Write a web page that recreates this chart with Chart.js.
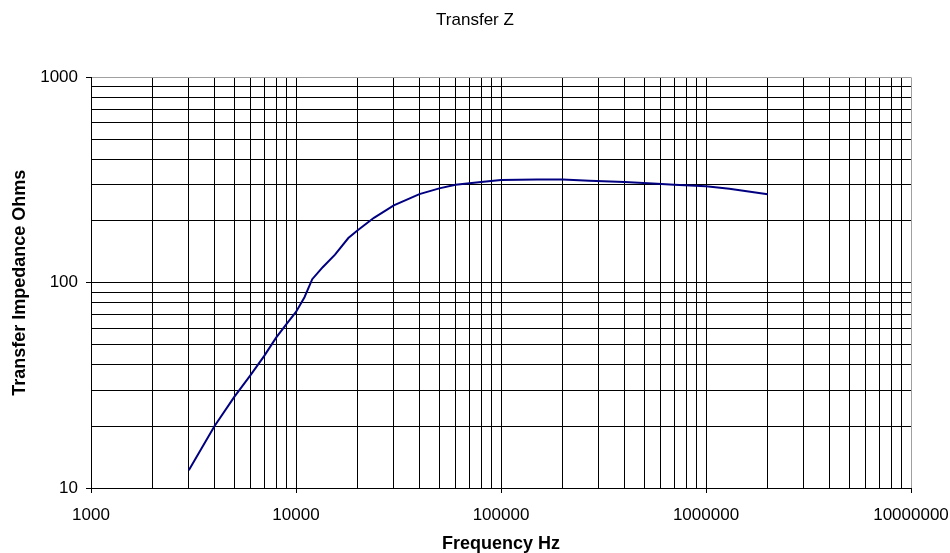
<!DOCTYPE html>
<html>
<head>
<meta charset="utf-8">
<script src="https://cdn.jsdelivr.net/npm/chart.js@4"></script>
<style>
  body { margin: 0; background: #fff; }
  #wrap { width: 950px; height: 553px; }
</style>
</head>
<body>
<div id="wrap"><canvas id="chart"></canvas></div>
<script>
// values
const freqHz = [3000, 4000, 5000, 6000, 7000, 8000, 9000, 10000, 11000, 12000, 13500, 15500, 18000, 20000,
	24000, 30000, 40000, 50000, 60000, 80000, 100000, 150000, 200000, 270000, 400000, 550000, 700000,
	1000000, 1300000, 2000000];
const impedanceOhms = [12.2, 20, 27.8, 35.5, 44, 54, 63, 72, 85, 104, 119, 137, 165, 180,
	207, 238, 270, 288, 300, 309, 316, 318, 318, 314, 309, 304, 300,
	295, 287, 270];

const xMajor = [1000, 10000, 100000, 1000000, 10000000];
const yMajor = [10, 100, 1000];

function decadeTicks(majors) {
	const out = [];
	for (let i = 0; i < majors.length - 1; i++) {
		for (let k = 1; k < 10; k++) out.push(majors[i] * k);
	}
	out.push(majors[majors.length - 1]);
	return out;
}

const font = 'Liberation Sans';
const gridColor = (ctx, edge) => ctx.tick && ctx.tick.value === edge ? '#a0a0a0' : '#000';
const tickColor = (ctx, majors) => ctx.tick && majors.includes(ctx.tick.value) ? '#000' : 'rgba(0,0,0,0)';

new Chart(document.getElementById('chart'), {
	type: 'scatter',
	data: {
		datasets: [{
			label: 'Transfer Z',
			data: freqHz.map((f, i) => ({ x: f, y: impedanceOhms[i] })),
			showLine: true,
			borderColor: '#000080',
			borderWidth: 2,
			pointRadius: 0,
			tension: 0,
		}],
	},
	options: {
		responsive: true,
		maintainAspectRatio: false,
		animation: false,
		layout: { padding: 0 },
		plugins: {
			legend: { display: false },
			tooltip: { enabled: false },
			title: {
				display: true,
				text: 'Transfer Z',
				color: '#000',
				font: { family: font, size: 17, weight: 'normal', lineHeight: 1.2 },
				padding: { top: 10, bottom: 47 },
			},
		},
		scales: {
			x: {
				type: 'logarithmic',
				min: 1000,
				max: 10000000,
				afterBuildTicks: s => { s.ticks = decadeTicks(xMajor).map(v => ({ value: v })); },
				afterFit: s => { s.height = 65; s.paddingLeft = 0; s.paddingRight = 39; },
				ticks: {
					autoSkip: false,
					maxRotation: 0,
					color: '#000',
					padding: 12,
					font: { family: font, size: 17 },
					callback: v => xMajor.includes(v) ? String(v) : '',
				},
				grid: {
					color: ctx => gridColor(ctx, 10000000),
					lineWidth: 1,
					tickLength: 5,
					tickColor: ctx => tickColor(ctx, xMajor),
				},
				border: { color: '#000' },
				title: {
					display: true,
					text: 'Frequency Hz',
					color: '#000',
					font: { family: font, size: 18, weight: 'bold', lineHeight: 1 },
					padding: { top: 0, bottom: 0 },
				},
			},
			y: {
				type: 'logarithmic',
				min: 10,
				max: 1000,
				afterBuildTicks: s => { s.ticks = decadeTicks(yMajor).map(v => ({ value: v })); },
				afterFit: s => { s.width = 91; },
				ticks: {
					autoSkip: false,
					color: '#000',
					padding: 8,
					font: { family: font, size: 17 },
					callback: v => yMajor.includes(v) ? String(v) : '',
				},
				grid: {
					color: ctx => gridColor(ctx, 1000),
					lineWidth: 1,
					tickLength: 5,
					tickColor: ctx => tickColor(ctx, yMajor),
				},
				border: { color: '#000' },
				title: {
					display: true,
					text: 'Transfer Impedance Ohms',
					color: '#000',
					font: { family: font, size: 18, weight: 'bold', lineHeight: 1.2 },
					padding: { top: 9, bottom: 0 },
				},
			},
		},
	},
});
</script>
</body>
</html>
